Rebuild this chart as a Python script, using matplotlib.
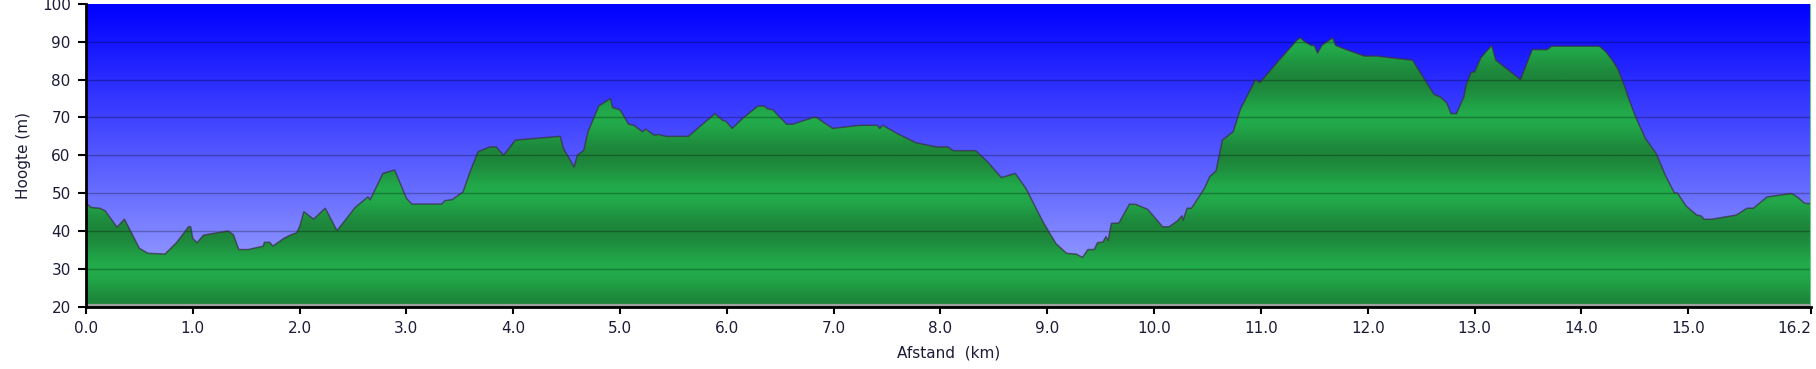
import matplotlib
matplotlib.use("Agg")
import matplotlib.pyplot as plt
import numpy as np
from matplotlib.colors import LinearSegmentedColormap

# hoogteprofiel: afstand (km) en hoogte (m)
dist_km = [
    0.00, 0.05, 0.13, 0.18, 0.29, 0.36, 0.50, 0.58, 0.74, 0.85, 0.96, 0.98,
    1.00, 1.04, 1.10, 1.33, 1.38, 1.43, 1.52, 1.66, 1.67, 1.72, 1.75, 1.85,
    1.92, 1.97, 2.00, 2.04, 2.13, 2.24, 2.35, 2.52, 2.64, 2.66, 2.78, 2.89,
    3.00, 3.05, 3.33, 3.36, 3.43, 3.53, 3.59, 3.67, 3.78, 3.84, 3.91, 4.02,
    4.44, 4.47, 4.57, 4.60, 4.66, 4.70, 4.80, 4.91, 4.93, 5.00, 5.08, 5.13,
    5.21, 5.24, 5.32, 5.36, 5.43, 5.64, 5.76, 5.89, 5.96, 5.99, 6.05, 6.15,
    6.29, 6.35, 6.38, 6.43, 6.56, 6.62, 6.68, 6.81, 6.84, 6.90, 6.99, 7.24,
    7.41, 7.43, 7.46, 7.59, 7.77, 7.96, 8.07, 8.12, 8.33, 8.44, 8.57, 8.70,
    8.80, 8.96, 9.08, 9.18, 9.27, 9.33, 9.38, 9.44, 9.47, 9.52, 9.55, 9.57,
    9.60, 9.67, 9.77, 9.83, 9.94, 10.08, 10.14, 10.22, 10.26, 10.27, 10.31,
    10.35, 10.47, 10.52, 10.58, 10.64, 10.74, 10.81, 10.95, 10.99, 11.17,
    11.34, 11.37, 11.41, 11.47, 11.50, 11.53, 11.57, 11.67, 11.70, 11.79,
    11.97, 12.08, 12.42, 12.62, 12.68, 12.74, 12.78, 12.83, 12.90, 12.92,
    12.97, 13.00, 13.06, 13.16, 13.20, 13.43, 13.54, 13.68, 13.72, 14.17,
    14.23, 14.29, 14.34, 14.41, 14.44, 14.51, 14.60, 14.70, 14.79, 14.87,
    14.90, 14.98, 15.08, 15.12, 15.15, 15.22, 15.45, 15.55, 15.61, 15.74,
    15.97, 16.03, 16.09, 16.15,
]
elev_m = [
    47.3, 46.2, 46.0, 45.3, 41.0, 43.1, 35.4, 34.1, 33.9, 37.0, 41.1, 41.1,
    38.0, 36.9, 38.9, 40.0, 39.0, 35.1, 35.1, 36.0, 37.0, 37.0, 36.0, 38.0,
    39.0, 39.5, 41.1, 45.1, 43.1, 46.0, 40.1, 46.2, 49.0, 48.2, 55.2, 56.1,
    48.6, 47.1, 47.1, 48.0, 48.3, 50.3, 55.2, 60.9, 62.2, 62.2, 60.0, 64.0,
    65.0, 61.8, 56.9, 60.0, 61.3, 66.2, 73.0, 75.0, 72.6, 72.0, 68.2, 67.9,
    66.2, 66.9, 65.3, 65.5, 65.0, 65.0, 67.9, 71.0, 69.2, 69.0, 67.1, 69.8,
    73.0, 73.0, 72.3, 72.0, 68.2, 68.2, 68.8, 70.0, 70.0, 68.8, 67.1, 67.9,
    67.9, 67.1, 67.9, 65.8, 63.3, 62.2, 62.2, 61.2, 61.2, 58.3, 54.1, 55.2,
    51.2, 42.4, 36.7, 34.1, 33.9, 33.0, 35.1, 35.1, 36.9, 37.1, 38.5, 37.5,
    42.0, 42.1, 47.1, 47.0, 45.7, 41.1, 41.1, 42.7, 44.0, 42.8, 46.0,
    46.0, 51.2, 54.3, 55.9, 64.0, 66.2, 72.3, 80.0, 79.2, 85.1,
    90.5, 91.0, 90.0, 89.0, 89.0, 87.0, 89.0, 91.0, 89.0, 88.0,
    86.2, 86.2, 85.1, 76.1, 75.4, 73.8, 71.0, 71.0, 75.4, 78.5,
    82.0, 82.0, 85.8, 89.0, 85.1, 80.0, 87.9, 87.9, 88.8, 88.8,
    87.3, 85.1, 82.9, 77.9, 75.2, 70.0, 64.4, 60.5, 54.5, 50.1,
    50.0, 46.6, 44.2, 44.0, 43.1, 43.1, 44.2, 46.0, 46.0, 49.0,
    49.9, 48.8, 47.3, 47.2,
]
y_ticks = [20, 30, 40, 50, 60, 70, 80, 90, 100]
x_ticks = list(range(16))

Y_MIN, Y_MAX = 20, 100
X_MAX = dist_km[-1]
TEXT = "#1c1c38"

plt.rcParams["font.family"] = ["DejaVu Sans"]

fig = plt.figure(figsize=(18.16, 3.69), dpi=100)
ax = fig.add_axes([86 / 1816, 1 - 306.7 / 369, (1811 - 86) / 1816, (306.7 - 3.8) / 369])

# lucht: verloop van fel blauw (boven) naar lichtblauw (onder)
sky = LinearSegmentedColormap.from_list("sky", ["#0000ff", "#a8b0ff"])
grad = np.linspace(1, 0, 256).reshape(-1, 1)
ax.imshow(grad, cmap=sky, aspect="auto", extent=[0, X_MAX, Y_MIN, Y_MAX],
          origin="lower", zorder=0)

# terrein: groene banden (donker op 20/40/60/80, licht op 30/50/70/90)
yy = np.linspace(Y_MIN, Y_MAX, 800).reshape(-1, 1)
band = 0.5 + 0.5 * np.cos(2 * np.pi * (yy - Y_MIN) / 20)
greens = LinearSegmentedColormap.from_list("grn", ["#22ab4b", "#1d853a"])
poly = ax.fill_between(dist_km, elev_m, Y_MIN, facecolor="none", edgecolor="none")
im = ax.imshow(band, cmap=greens, aspect="auto", extent=[0, X_MAX, Y_MIN, Y_MAX],
               origin="lower", zorder=1)
im.set_clip_path(poly.get_paths()[0], transform=ax.transData)

for yv in y_ticks[1:-1]:
    ax.axhline(yv, color="black", alpha=0.28, lw=1, zorder=2)

ax.plot(dist_km, elev_m, color="#3a3040", alpha=0.7, lw=1.1, zorder=3)
ax.axhline(20.45, color="#a0a0a0", lw=1.6, zorder=3)
ax.axvline(X_MAX, color="#5fd080", lw=1.5, zorder=3)

ax.set_xlim(0, X_MAX)
ax.set_ylim(Y_MIN, Y_MAX)
ax.set_yticks(y_ticks)
ax.set_xticks(x_ticks + [X_MAX])
ax.set_xticklabels([f"{v:.1f}" for v in x_ticks] + ["16.2"])
ax.get_xticklabels()[-1].set_horizontalalignment("right")

for side in ("top", "right"):
    ax.spines[side].set_visible(False)
for side in ("left", "bottom"):
    ax.spines[side].set_linewidth(2)
    ax.spines[side].set_color("black")
    ax.spines[side].set_zorder(4)

ax.tick_params(axis="both", colors="black", labelcolor=TEXT, labelsize=11,
               width=1.5, direction="out")
ax.tick_params(axis="y", length=6, pad=5)
ax.tick_params(axis="x", length=5, pad=5)

ax.set_xlabel("Afstand  (km)", fontsize=11, color=TEXT, labelpad=7)
ax.set_ylabel("Hoogte (m)", fontsize=11, color=TEXT, labelpad=8)

fig.savefig("out.png", dpi=100)
